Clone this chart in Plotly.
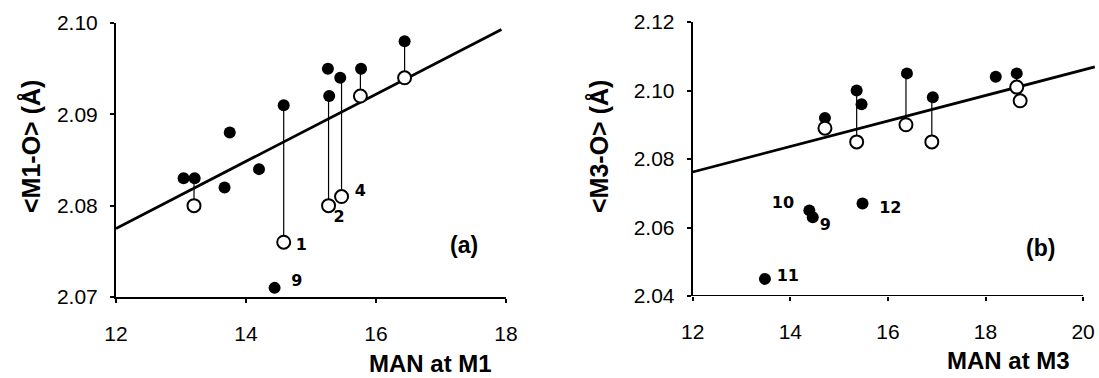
import plotly.graph_objects as go

# ---- Panel (a): M1 ----
a_fill_x = [13.04, 13.21, 13.67, 13.75, 14.20, 14.58, 14.44, 15.26, 15.28, 15.45, 15.77, 16.44]
a_fill_y = [2.083, 2.083, 2.082, 2.088, 2.084, 2.091, 2.071, 2.095, 2.092, 2.094, 2.095, 2.098]
a_open_x = [13.20, 14.58, 15.27, 15.47, 15.76, 16.44]
a_open_y = [2.080, 2.076, 2.080, 2.081, 2.092, 2.094]
a_link_top = [2.083, 2.091, 2.092, 2.094, 2.095, 2.098]
a_fit_x = [12.0, 17.93]
a_fit_y = [2.0775, 2.0993]
a_lbl_text = ["1", "2", "4", "9"]
a_lbl_x = [14.85, 15.43, 15.76, 14.78]
a_lbl_y = [2.0756, 2.0786, 2.0815, 2.0716]

# ---- Panel (b): M3 ----
b_fill_x = [14.71, 14.39, 14.46, 13.48, 15.36, 15.46, 16.39, 16.92, 18.21, 18.64, 15.48]
b_fill_y = [2.092, 2.065, 2.063, 2.045, 2.100, 2.096, 2.105, 2.098, 2.104, 2.105, 2.067]
b_open_x = [14.71, 15.36, 16.37, 16.90, 18.64, 18.71]
b_open_y = [2.089, 2.085, 2.090, 2.085, 2.101, 2.097]
b_link_top = [2.092, 2.100, 2.105, 2.098, 2.105, 2.101]
b_fit_x = [12.0, 20.24]
b_fit_y = [2.0762, 2.1069]
b_lbl_text = ["10", "9", "11", "12"]
b_lbl_x = [13.85, 14.72, 13.95, 16.05]
b_lbl_y = [2.0668, 2.0605, 2.0455, 2.0655]

x_ticks_a = [12, 14, 16, 18]
y_ticks_a = [2.07, 2.08, 2.09, 2.10]
x_ticks_b = [12, 14, 16, 18, 20]
y_ticks_b = [2.04, 2.06, 2.08, 2.10, 2.12]

FONT = "Liberation Sans, Arial, sans-serif"
LBL_FONT = "DejaVu Sans, Liberation Sans, Arial, sans-serif"

W, H = 1099, 378


def px(X):
    return X / W


def py(Y):
    return 1 - Y / H


fig = go.Figure()


def links(xs, top, bottom):
    lx, ly = [], []
    for x, t, b in zip(xs, top, bottom):
        lx += [x, x, None]
        ly += [t, b, None]
    return lx, ly


def add_panel(xa, ya, fx, fy, ox, oy, top, fitx, fity, lt, lxx, lyy):
    lx, ly = links(ox, top, oy)
    fig.add_trace(go.Scatter(x=lx, y=ly, mode="lines", line=dict(color="black", width=1.2),
                             xaxis=xa, yaxis=ya, hoverinfo="skip"))
    fig.add_trace(go.Scatter(x=fitx, y=fity, mode="lines", line=dict(color="black", width=2.8),
                             xaxis=xa, yaxis=ya))
    fig.add_trace(go.Scatter(x=fx, y=fy, mode="markers", cliponaxis=False,
                             marker=dict(size=12, color="black"), xaxis=xa, yaxis=ya))
    fig.add_trace(go.Scatter(x=ox, y=oy, mode="markers", cliponaxis=False,
                             marker=dict(size=13, color="white", line=dict(color="black", width=2)),
                             xaxis=xa, yaxis=ya))
    fig.add_trace(go.Scatter(x=lxx, y=lyy, mode="text", text=lt, cliponaxis=False,
                             textfont=dict(family=LBL_FONT, size=16, color="black"),
                             texttemplate="<b>%{text}</b>", xaxis=xa, yaxis=ya))


add_panel("x", "y", a_fill_x, a_fill_y, a_open_x, a_open_y, a_link_top, a_fit_x, a_fit_y,
          a_lbl_text, a_lbl_x, a_lbl_y)
add_panel("x2", "y2", b_fill_x, b_fill_y, b_open_x, b_open_y, b_link_top, b_fit_x, b_fit_y,
          b_lbl_text, b_lbl_x, b_lbl_y)

axis_common = dict(showgrid=False, zeroline=False, ticks="outside", ticklen=4, tickwidth=2,
                   tickcolor="black", automargin=False, ticklabeloverflow="allow",
                   tickfont=dict(family=FONT, size=21, color="black"))

fig.update_layout(
    width=W, height=H,
    margin=dict(l=0, r=0, t=0, b=0),
    plot_bgcolor="white", paper_bgcolor="white",
    showlegend=False,
    xaxis=dict(domain=[px(116), px(506)], range=[12, 18], tickvals=x_ticks_a,
               ticktext=[str(v) for v in x_ticks_a], showline=True, linecolor="black",
               linewidth=2, anchor="y", ticklabelstandoff=13, **axis_common),
    yaxis=dict(domain=[py(297), py(23)], range=[2.07, 2.10],
               tickvals=y_ticks_a, ticktext=["%.2f" % v for v in y_ticks_a], showline=True,
               linecolor="black", linewidth=2, anchor="x", ticklabelstandoff=8, **axis_common),
    xaxis2=dict(domain=[px(692.7), px(1095.3)], range=[12, 20.25], tickvals=x_ticks_b,
                ticktext=[str(v) for v in x_ticks_b], showline=False, anchor="y2",
                ticklabelstandoff=13, **axis_common),
    yaxis2=dict(domain=[py(296), py(22)], range=[2.04, 2.12],
                tickvals=y_ticks_b, ticktext=["%.2f" % v for v in y_ticks_b], showline=True,
                linecolor="black", linewidth=2, anchor="x2", ticklabelstandoff=8, **axis_common),
)

# bottom axis line of panel (b) stops at 20 while the fit line runs a little further
fig.add_shape(type="line", xref="x2", yref="y2", x0=12, x1=20, y0=2.04, y1=2.04,
              line=dict(color="black", width=2), layer="above")

title_font = dict(family=FONT, size=24, color="black")
annos = [
    dict(text="<b>&lt;M1-O&gt; (Å)</b>", x=px(31), y=py(147), textangle=-90,
         font=dict(family=FONT, size=25, color="black")),
    dict(text="<b>&lt;M3-O&gt; (Å)</b>", x=px(599), y=py(147), textangle=-90,
         font=dict(family=FONT, size=25, color="black")),
    dict(text="<b>MAN at M1</b>", x=px(430), y=0.0, yanchor="bottom"),
    dict(text="<b>MAN at M3</b>", x=px(1008), y=3 / H, yanchor="bottom"),
    dict(text="<b>(a)</b>", x=px(464), y=py(245), font=dict(family=FONT, size=23, color="black")),
    dict(text="<b>(b)</b>", x=px(1040), y=py(248), font=dict(family=FONT, size=23, color="black")),
]
for a in annos:
    a.setdefault("font", title_font)
    a.setdefault("yanchor", "middle")
    fig.add_annotation(xref="paper", yref="paper", showarrow=False, xanchor="center",
                       borderpad=0, **a)

fig.write_html("out.html", config={"displayModeBar": False},
               post_script="document.body.style.margin='0';document.body.style.overflow='hidden';")
